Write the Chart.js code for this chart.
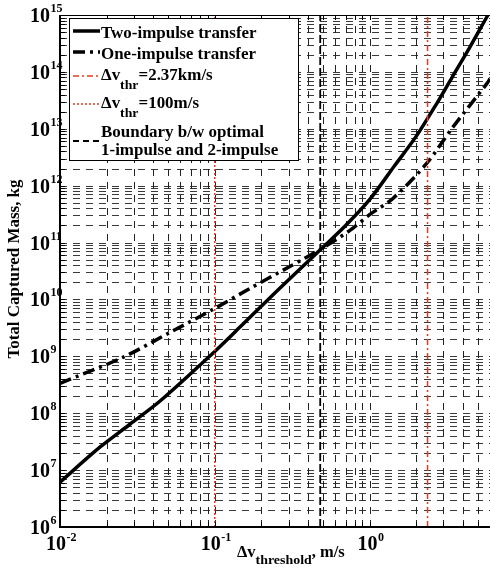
<!DOCTYPE html>
<html><head><meta charset="utf-8">
<script src="https://cdn.jsdelivr.net/npm/chart.js@4"></script>
<style>html,body{margin:0;padding:0;background:#fff;}#wrap{width:490px;height:570px;}</style>
</head><body><div id="wrap"><canvas id="c" width="490" height="570"></canvas></div>
<script>
// ---- data ----
const twoImpulseX = [0.01, 0.0181, 0.0283, 0.0449, 0.1, 0.145, 0.262, 0.49, 0.69, 1.0, 1.45, 2.01, 2.71, 3.43, 4.42, 5.77, 6.0];
const twoImpulseY = [6.15e6, 2.53e7, 6.4e7, 1.69e8, 1.22e9, 3.23e9, 1.56e10, 7.85e10, 1.91e11, 5.68e11, 2.24e12, 7.5e12, 2.75e13, 8.2e13, 2.64e14, 9.6e14, 1.15e15];
const oneImpulseX = [0.01, 0.0255, 0.0513, 0.1, 0.168, 0.305, 0.49, 0.743, 1.0, 1.41, 2.33, 3.43, 5.77, 6.0];
const oneImpulseY = [3.36e8, 9.6e8, 2.63e9, 6.95e9, 1.55e10, 3.79e10, 7.85e10, 1.62e11, 3.09e11, 5.9e11, 2.43e12, 1.04e13, 6.4e13, 7.6e13];
const thr237X = [2.37, 2.37];
const thr100X = [0.1, 0.1];
const boundaryX = [0.48, 0.48];
const vLineY = [1e6, 1e15];
const xLimits = [0.01, 6];
const yLimits = [1e6, 1e15];
const xTickLabels = ['10^-2', '10^-1', '10^0'];
const xTickValues = [0.01, 0.1, 1];
const yTickLabels = ['10^6','10^7','10^8','10^9','10^10','10^11','10^12','10^13','10^14','10^15'];
const yTickValues = [1e6,1e7,1e8,1e9,1e10,1e11,1e12,1e13,1e14,1e15];
const legendLabels = ['Two-impulse transfer', 'One-impulse transfer', 'Δv_thr=2.37km/s', 'Δv_thr=100m/s', 'Boundary b/w optimal\n1-impulse and 2-impulse'];
const xTitle = 'Δv_threshold, m/s';
const yTitle = 'Total Captured Mass, kg';

const RED = '#e43c1c';
const FONT = '"Liberation Serif", "Times New Roman", serif';
const pts = (xs, ys) => xs.map((x, i) => ({x, y: ys[i]}));

function minorValues(lo, hi) {
  const out = [];
  for (let e = Math.floor(Math.log10(lo)); e <= Math.ceil(Math.log10(hi)); e++) {
    for (let m = 1; m <= 9; m++) {
      const v = m * Math.pow(10, e);
      if (v >= lo * 0.9999 && v <= hi * 1.0001) out.push(v);
    }
  }
  return out;
}

function setFont(ctx, size) { ctx.font = 'bold ' + size + 'px ' + FONT; }
function runWidth(ctx, runs, sx) {
  let w = 0;
  runs.forEach(r => { setFont(ctx, r.size); w += ctx.measureText(r.t).width * sx; });
  return w;
}
function drawRuns(ctx, runs, x, y, sx) {
  let cx = x;
  runs.forEach(r => {
    setFont(ctx, r.size);
    ctx.save();
    ctx.translate(cx, y + (r.dy || 0));
    ctx.scale(sx, 1);
    ctx.textAlign = 'left';
    ctx.textBaseline = 'alphabetic';
    ctx.fillStyle = '#000';
    ctx.fillText(r.t, 0, 0);
    ctx.restore();
    cx += ctx.measureText(r.t).width * sx;
  });
  return cx;
}
function subRuns(label, main, sub, dy) {
  const m = label.split('_');
  if (m.length === 1) return [{t: label, size: main}];
  const rest = m[1];
  const idx = rest.search(/[=,]/);
  const s = idx < 0 ? rest : rest.slice(0, idx);
  const after = idx < 0 ? '' : rest.slice(idx);
  const r = [{t: m[0], size: main}, {t: s, size: sub, dy: dy}];
  if (after) r.push({t: after, size: main});
  return r;
}

const decor = {
  id: 'decor',
  beforeDatasetsDraw(chart) {
    const {ctx, chartArea: a, scales: {x, y}} = chart;
    ctx.save();
    ctx.lineWidth = 1;
    ctx.strokeStyle = '#3a3a3a';
    ctx.setLineDash([7, 6]);
    minorValues(yLimits[0], yLimits[1]).forEach(v => {
      const py = Math.round(y.getPixelForValue(v)) + 0.5;
      ctx.beginPath(); ctx.moveTo(a.left, py); ctx.lineTo(a.right, py); ctx.stroke();
    });
    ctx.strokeStyle = '#222';
    minorValues(xLimits[0], xLimits[1]).forEach(v => {
      const px = Math.round(x.getPixelForValue(v)) + 0.5;
      ctx.beginPath(); ctx.moveTo(px, a.bottom); ctx.lineTo(px, a.top); ctx.stroke();
    });
    ctx.restore();
  },
  afterDraw(chart) {
    const {ctx, chartArea: a, scales: {x, y}} = chart;
    ctx.save();
    ctx.strokeStyle = '#000'; ctx.lineWidth = 1; ctx.setLineDash([]);
    minorValues(yLimits[0], yLimits[1]).forEach(v => {
      const py = Math.round(y.getPixelForValue(v)) + 0.5;
      ctx.beginPath(); ctx.moveTo(a.left, py); ctx.lineTo(a.left + 5, py); ctx.stroke();
    });
    minorValues(xLimits[0], xLimits[1]).forEach(v => {
      const px = Math.round(x.getPixelForValue(v)) + 0.5;
      ctx.beginPath(); ctx.moveTo(px, a.bottom); ctx.lineTo(px, a.bottom - 5); ctx.stroke();
      ctx.beginPath(); ctx.moveTo(px, a.top); ctx.lineTo(px, a.top + 5); ctx.stroke();
    });
    ctx.lineWidth = 1;
    ctx.beginPath(); ctx.moveTo(a.left, a.top + 0.5); ctx.lineTo(a.right, a.top + 0.5); ctx.stroke();
    ctx.lineWidth = 2;
    ctx.beginPath(); ctx.moveTo(a.left, a.top); ctx.lineTo(a.left, a.bottom); ctx.lineTo(a.right, a.bottom); ctx.stroke();

    yTickLabels.forEach((lab, i) => {
      const [base, ex] = lab.split('^');
      const py = y.getPixelForValue(yTickValues[i]);
      setFont(ctx, 20);
      const bw = ctx.measureText(base).width;
      ctx.fillStyle = '#000';
      ctx.textAlign = 'left'; ctx.textBaseline = 'alphabetic';
      ctx.fillText(base, 50 - bw, py + 7);
      setFont(ctx, 12);
      ctx.fillText(ex, 50.5, py - 3);
    });
    xTickLabels.forEach((lab, i) => {
      const [base, ex] = lab.split('^');
      const px = x.getPixelForValue(xTickValues[i]);
      setFont(ctx, 20);
      const bw = ctx.measureText(base).width;
      setFont(ctx, 12);
      const ew = ctx.measureText(ex).width;
      const x0 = px - (bw + ew) / 2 + 1;
      ctx.fillStyle = '#000';
      ctx.textAlign = 'left'; ctx.textBaseline = 'alphabetic';
      setFont(ctx, 20); ctx.fillText(base, x0, 550);
      setFont(ctx, 12); ctx.fillText(ex, x0 + bw + 0.5, 541);
    });
    drawRuns(ctx, subRuns(xTitle, 16, 13.5, 7), 237, 557, 1.03);
    ctx.save();
    ctx.translate(19, 269);
    ctx.rotate(-Math.PI / 2);
    const yr = [{t: yTitle, size: 16}];
    const yw = runWidth(ctx, yr, 1.06);
    drawRuns(ctx, yr, -yw / 2, 0, 1.06);
    ctx.restore();

    ctx.fillStyle = '#fff';
    ctx.fillRect(69.5, 18.5, 229, 142);
    ctx.strokeStyle = '#000'; ctx.lineWidth = 1; ctx.setLineDash([]);
    ctx.strokeRect(69.5, 18.5, 229, 142);
    const samples = [
      {y: 31, color: '#000', w: 3.5, dash: []},
      {y: 52, color: '#000', w: 3.5, dash: [12, 5, 3, 5]},
      {y: 76, color: RED, w: 1.5, dash: [6, 3, 2, 3]},
      {y: 104, color: RED, w: 1.5, dash: [2, 2]},
      {y: 141, color: '#000', w: 1.8, dash: [6, 4]}
    ];
    const baselines = [[38], [59], [80], [108], [137, 155]];
    samples.forEach((s, i) => {
      ctx.save();
      ctx.strokeStyle = s.color; ctx.lineWidth = s.w; ctx.setLineDash(s.dash);
      ctx.beginPath(); ctx.moveTo(73, s.y); ctx.lineTo(100, s.y); ctx.stroke();
      ctx.restore();
      legendLabels[i].split('\n').forEach((line, j) => {
        drawRuns(ctx, subRuns(line, 16, 13, 9), 101, baselines[i][j], 1.06);
      });
    });
    ctx.restore();
  }
};

const vline = (xs, color, w, dash) => ({
  data: pts(xs, vLineY), borderColor: color, borderWidth: w, borderDash: dash,
  pointRadius: 0, showLine: true, fill: false
});

new Chart(document.getElementById('c'), {
  type: 'scatter',
  data: {
    datasets: [
      vline(thr100X, RED, 1.5, [2, 2]),
      vline(thr237X, RED, 1.5, [6, 3, 2, 3]),
      vline(boundaryX, '#000', 1.8, [8, 3]),
      {data: pts(oneImpulseX, oneImpulseY), borderColor: '#000', borderWidth: 3.5, borderDash: [12, 5, 3, 5],
       pointRadius: 0, showLine: true, tension: 0.3, fill: false},
      {data: pts(twoImpulseX, twoImpulseY), borderColor: '#000', borderWidth: 3.5,
       pointRadius: 0, showLine: true, tension: 0.3, fill: false}
    ]
  },
  options: {
    responsive: false, animation: false, devicePixelRatio: 1,
    layout: {padding: {left: 60, right: 0, top: 15, bottom: 43}},
    plugins: {legend: {display: false}, tooltip: {enabled: false}},
    scales: {
      x: {type: 'logarithmic', min: xLimits[0], max: xLimits[1],
          ticks: {display: false}, grid: {display: false, drawTicks: false}, border: {display: false}},
      y: {type: 'logarithmic', min: yLimits[0], max: yLimits[1],
          ticks: {display: false}, grid: {display: false, drawTicks: false}, border: {display: false}}
    }
  },
  plugins: [decor]
});
</script></body></html>
